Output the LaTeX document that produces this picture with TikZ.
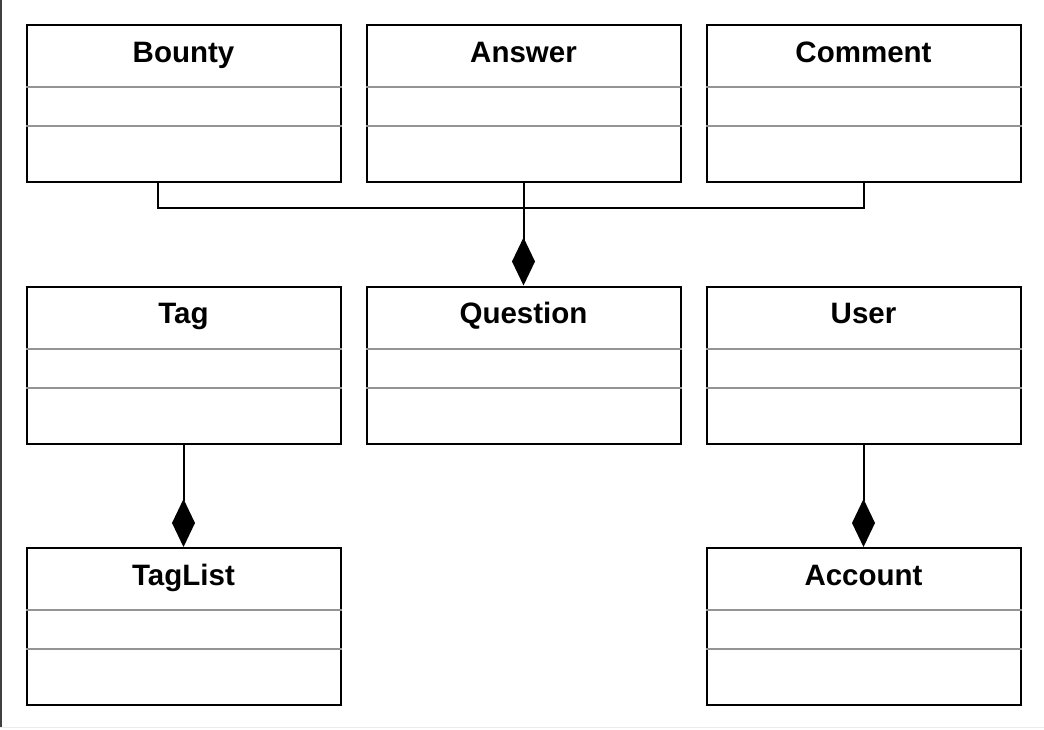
\documentclass[tikz,border=0pt]{standalone}
\usepackage{fontspec}
\setmainfont{Liberation Sans}
\usetikzlibrary{arrows.meta}
\tikzset{
  cls/.style={draw=black, line width=2pt, minimum width=314pt, minimum height=157pt, anchor=north west, inner sep=0pt},
  sep/.style={draw=black!42, line width=2pt},
  conn/.style={draw=black, line width=2pt},
  comp/.style={conn, -{Diamond[length=48pt,width=23pt]}},
  ttl/.style={font=\fontsize{29.5}{33}\selectfont\bfseries, anchor=base, inner sep=0pt}
}
\newcommand{\umlclass}[4]{%
  \node[cls] (#1) at (#2,#3) {};
  \draw[sep] ([yshift=-63pt]#1.north west) -- ([yshift=-63pt]#1.north east);
  \draw[sep] ([yshift=-102pt]#1.north west) -- ([yshift=-102pt]#1.north east);
  \node[ttl] (#1-t) at ([yshift=-38pt]#1.north) {#4};
}
\begin{document}
\begin{tikzpicture}[x=1pt,y=-1pt]
\useasboundingbox (0,0) rectangle (1044,729);
\fill[white] (0,0) rectangle (1044,729);
\draw[black!75, line width=2pt] (1,0) -- (1,728);
\draw[black!8, line width=1.5pt] (0,727.5) -- (1044,727.5);
\umlclass{bounty}{25.5}{24}{Bounty}
\umlclass{answer}{365.5}{24}{Answer}
\umlclass{comment}{705.5}{24}{Comment}
\umlclass{tag}{25.5}{285.5}{Tag}
\umlclass{question}{365.5}{285.5}{Question}
\umlclass{user}{705.5}{285.5}{User}
\umlclass{taglist}{25.5}{547}{TagList}
\umlclass{account}{705.5}{547}{Account}
\coordinate (bus) at (0,208);
\draw[conn] ([xshift=-26pt]bounty.south) |- (bus -| comment.south) -- (comment.south);
\draw[comp] (answer.south) -- (question.north);
\draw[comp] (tag.south) -- (taglist.north);
\draw[comp] (user.south) -- (account.north);
\end{tikzpicture}
\end{document}
